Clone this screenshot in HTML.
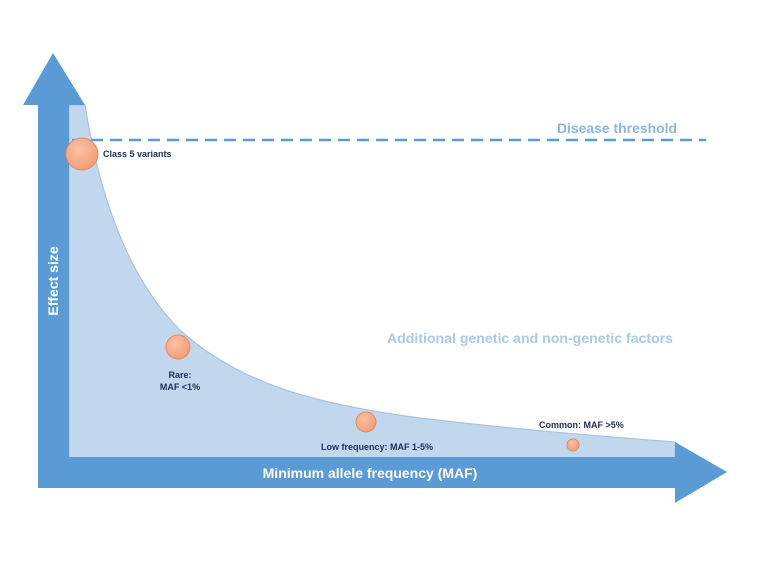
<!DOCTYPE html>
<html><head><meta charset="utf-8"><style>
html,body{margin:0;padding:0;background:#fff;}
svg{display:block;font-family:"Liberation Sans",sans-serif;}
</style></head><body>
<svg id="chart" width="760" height="562" viewBox="0 0 760 562">
<defs>
<radialGradient id="cg" cx="40%" cy="35%" r="70%">
<stop offset="0" stop-color="#fbc2a6"/><stop offset="1" stop-color="#f39a72"/>
</radialGradient>
</defs>
<path d="M69,105 L85,105 C100,200 130,280 180,330 C240,385 320,405 420,418 C520,430 600,436 675,442 L675,458 L69,458 Z" fill="#c1d7ee" stroke="#a8c3e1" stroke-width="1.2"/>
<line x1="72" y1="140" x2="706" y2="140" stroke="#5b9bd5" stroke-width="2.6" stroke-dasharray="12,7"/>
<text x="557" y="133" font-size="14" font-weight="bold" fill="#8db5df" textLength="120" lengthAdjust="spacingAndGlyphs">Disease threshold</text>
<text x="387" y="343" font-size="14" font-weight="bold" fill="#a9c9e9" textLength="286" lengthAdjust="spacingAndGlyphs">Additional genetic and non-genetic factors</text>
<polygon points="38,488 38,105 23,105 53,53 85,105 69,105 69,488" fill="#5b9bd5"/>
<polygon points="38,457 675,457 675,442 727,472 675,503 675,488 38,488" fill="#5b9bd5"/>
<text x="370" y="478" font-size="14" font-weight="bold" fill="#fff" text-anchor="middle">Minimum allele frequency (MAF)</text>
<text transform="translate(58,281) rotate(-90)" font-size="14" font-weight="bold" fill="#fff" text-anchor="middle">Effect size</text>
<g id="marks"></g>
</svg>
<script>
const categories=["Class 5 variants","Rare","Low frequency","Common"];
const xs=[82,178,366,573];
const ys=[154,347,422,445];
const sizes=[16,12,10,6];
const g=document.getElementById('marks');
const NS='http://www.w3.org/2000/svg';
for(let i=0;i<categories.length;i++){
  const c=document.createElementNS(NS,'circle');
  
  
  c.setAttribute('cx',xs[i]);c.setAttribute('cy',ys[i]);c.setAttribute('r',sizes[i]);
  c.setAttribute('fill','url(#cg)');c.setAttribute('stroke','#e58a62');c.setAttribute('stroke-width','1');
  g.appendChild(c);
}
const labels=[
 {t:["Class 5 variants"],x:103,y:157,a:"start"},
 {t:["Rare:","MAF <1%"],x:180,y:378,a:"middle"},
 {t:["Low frequency: MAF  1-5%"],x:377,y:450,a:"middle"},
 {t:["Common: MAF  >5%"],x:539,y:428,a:"start"}
];
labels.forEach((l,i)=>{
  l.t.forEach((s,j)=>{
    const t=document.createElementNS(NS,'text');
    
    
    t.setAttribute('x',l.x);t.setAttribute('y',l.y+j*12);
    t.setAttribute('font-size','9');t.setAttribute('font-weight','bold');
    t.setAttribute('fill','#1f2f55');t.setAttribute('text-anchor',l.a);
    t.setAttribute('xml:space','preserve');
    t.textContent=s;g.appendChild(t);
  });
});
</script>
</body></html>
